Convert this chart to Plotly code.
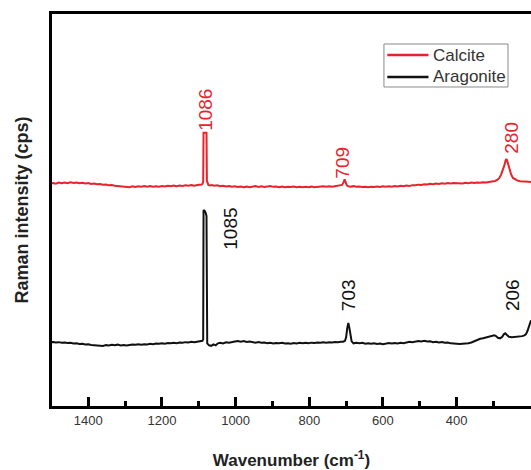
import plotly.graph_objects as go

# ---- Calcite (red) spectrum: wavenumber (cm-1), intensity (a.u.) ----
calcite_wn = [1502,1495,1488,1480,1472,1464,1456,1448,1440,1432,1424,1416,1408,1400,1392,1384,1376,1368,1360,1352,
              1344,1336,1328,1320,1312,1304,1296,1288,1280,1272,1264,1256,1248,1240,1232,1224,1216,1208,1200,1192,
              1184,1176,1168,1160,1152,1144,1136,1128,1120,1112,1104,1097,1092,1090,1088,1087,1079,1078,1076,1074,
              1070,1064,1058,1050,1042,1034,1026,1018,1010,1002,994,986,978,970,962,954,946,938,930,922,
              914,906,898,890,882,874,866,858,850,842,834,826,818,810,802,794,786,778,770,762,
              754,746,738,730,722,716,711,707,704,701,698,694,688,680,672,664,656,648,640,632,
              624,616,608,600,592,584,576,568,560,552,544,536,528,520,512,504,496,488,480,472,
              464,456,448,440,432,424,416,408,400,392,384,376,368,360,352,344,336,328,320,312,
              304,296,290,284,279,274,270,267,265,263,260,256,252,247,242,236,228,220,212,205,198]
calcite_int = [223.5,224.0,223.2,224.3,223.6,224.4,223.8,224.6,224.0,224.5,223.7,224.2,223.4,223.8,223.0,223.4,222.6,223.0,222.2,222.5,
               221.6,222.0,221.2,221.0,220.4,220.8,220.0,219.8,220.6,219.9,220.7,220.1,220.8,220.2,220.9,220.3,220.6,220.2,221.0,220.4,
               221.2,220.6,221.3,220.8,221.5,221.0,221.7,221.2,221.8,221.3,222.0,222.1,222.4,223.0,225.0,274.0,274.0,226.0,223.0,222.0,
               221.4,222.0,221.3,221.6,220.8,221.2,220.4,220.9,220.2,220.6,219.9,220.5,219.8,220.3,219.7,220.4,220.8,220.0,220.6,219.9,
               220.5,220.9,220.1,220.5,219.8,220.3,219.7,220.2,219.9,220.4,219.8,220.2,219.6,220.1,219.8,220.3,219.7,220.2,220.0,220.6,
               220.1,220.7,220.2,220.6,220.9,221.0,222.0,224.5,227.5,224.5,221.5,220.6,220.3,220.8,220.1,220.5,219.9,220.3,219.8,220.2,
               219.9,220.4,220.0,220.6,220.1,220.7,220.3,220.9,220.5,221.1,220.8,221.4,221.0,221.8,221.6,222.3,222.0,222.7,222.5,223.1,
               222.8,223.3,223.0,223.6,223.2,223.8,223.5,224.0,223.6,223.9,223.5,224.2,223.8,224.3,223.9,224.5,224.1,224.6,224.4,225.0,
               225.4,226.0,227.0,229.0,232.5,237.0,242.0,246.5,248.0,246.5,242.0,237.0,232.5,229.0,227.5,226.5,225.6,225.2,224.8,225.1,224.9]

# ---- Aragonite (black) spectrum ----
aragonite_wn = [1502,1495,1488,1480,1472,1464,1456,1448,1440,1432,1424,1416,1408,1400,1392,1384,1376,1368,1360,1352,
                1344,1336,1328,1320,1312,1304,1296,1288,1280,1272,1264,1256,1248,1240,1232,1224,1216,1208,1200,1192,
                1184,1176,1168,1160,1152,1144,1136,1128,1120,1112,1104,1097,1092,1090,1088,1087,1084,1081,1079,1077,
                1072,1066,1060,1054,1048,1042,1034,1026,1018,1010,1002,994,986,978,970,962,954,946,938,930,
                922,914,906,898,890,882,874,866,858,850,842,834,826,818,810,802,794,786,778,770,
                762,754,746,738,730,722,714,708,703,700,697,694,691,688,685,680,672,664,656,648,
                640,632,624,616,608,600,592,584,576,568,560,552,544,536,528,520,512,504,496,488,
                480,472,464,456,448,440,432,424,416,408,400,392,384,376,368,360,352,344,336,328,
                320,312,304,298,294,288,282,276,272,268,264,258,250,242,234,228,222,216,212,208,205,202,198]
aragonite_int = [65.0,65.4,64.8,65.2,64.6,64.9,64.3,64.5,63.8,64.1,63.4,63.6,62.9,63.1,62.4,62.0,61.5,61.7,61.3,62.2,
                 61.8,62.6,62.2,62.7,61.9,62.4,61.8,62.3,62.8,62.5,63.1,62.7,63.2,62.9,63.5,63.2,63.8,63.5,64.0,63.7,
                 64.3,64.0,64.5,64.2,64.9,64.6,65.2,64.9,65.5,65.2,65.8,66.0,66.2,66.5,68.0,197.0,196.0,194.0,191.0,64.0,
                 62.0,61.5,63.0,62.0,64.0,64.5,63.8,65.0,64.6,65.5,65.8,66.3,65.7,66.2,65.4,65.8,65.0,64.7,65.3,64.5,
                 64.9,64.2,64.6,63.9,64.4,64.0,64.5,63.8,64.2,63.7,64.3,63.9,64.5,64.0,64.6,64.1,64.7,64.3,64.9,64.5,
                 65.1,64.7,65.2,64.9,65.4,65.0,65.5,65.6,66.5,70.0,79.0,84.3,79.0,70.0,66.0,64.0,64.6,64.0,64.5,63.6,
                 64.1,63.5,64.0,63.3,63.8,63.2,63.7,64.3,63.8,64.4,63.9,64.6,64.2,65.0,65.6,65.2,66.0,66.4,65.9,66.6,
                 65.8,66.0,65.2,65.6,64.8,65.3,64.6,64.9,64.0,63.6,63.9,63.3,63.7,63.5,64.0,64.8,66.0,67.5,68.5,69.0,
                 69.8,70.0,70.8,72.0,71.5,69.5,69.0,70.5,73.0,74.0,72.5,70.5,70.0,70.3,70.0,70.5,71.2,72.0,73.0,76.0,79.5,83.0,87.0]

# ---- Peak labels ----
calcite_labels = ["1086", "709", "280"]
calcite_label_x = [1080, 709, 250]
calcite_label_y = [297, 244, 269]
aragonite_labels = ["1085", "703", "206"]
aragonite_label_x = [1016, 695, 250]
aragonite_label_y = [178, 112, 112]

series_names = ["Calcite", "Aragonite"]

major_ticks = [1400, 1200, 1000, 800, 600, 400]
minor_ticks = [1300, 1100, 900, 700, 500, 300]

RED = "#e8232b"
BLACK = "#111111"
FONT = "Liberation Sans, Arial, sans-serif"

fig = go.Figure()
fig.add_trace(go.Scatter(x=calcite_wn, y=calcite_int, mode="lines", name=series_names[0],
                         line=dict(color=RED, width=2), showlegend=False))
fig.add_trace(go.Scatter(x=aragonite_wn, y=aragonite_int, mode="lines", name=series_names[1],
                         line=dict(color=BLACK, width=2), showlegend=False))

annotations = []
for t, x, y in zip(calcite_labels, calcite_label_x, calcite_label_y):
    annotations.append(dict(x=x, y=y, xref="x", yref="y", text=t, showarrow=False, textangle=-90,
                            font=dict(color=RED, size=19, family=FONT)))
for t, x, y in zip(aragonite_labels, aragonite_label_x, aragonite_label_y):
    annotations.append(dict(x=x, y=y, xref="x", yref="y", text=t, showarrow=False, textangle=-90,
                            font=dict(color=BLACK, size=19, family=FONT)))

# legend box (drawn manually to match the compact original legend)
shapes = [
    dict(type="rect", xref="paper", yref="paper", x0=0.693, x1=0.952, y0=0.8138, y1=0.9235,
         line=dict(color="#8a8a8a", width=1), fillcolor="white", layer="above"),
    dict(type="line", xref="paper", yref="paper", x0=0.70, x1=0.786, y0=0.8954, y1=0.8954,
         line=dict(color=RED, width=2.5), layer="above"),
    dict(type="line", xref="paper", yref="paper", x0=0.70, x1=0.786, y0=0.8393, y1=0.8393,
         line=dict(color=BLACK, width=2.5), layer="above"),
]
for name, yy in zip(series_names, [0.8954, 0.8393]):
    annotations.append(dict(x=0.791, y=yy, xref="paper", yref="paper", text=name, showarrow=False,
                            xanchor="left", yanchor="middle", font=dict(size=17, color="#333", family=FONT)))

fig.update_layout(
    width=531, height=470,
    margin=dict(l=52, r=0, t=14, b=64),
    paper_bgcolor="white", plot_bgcolor="white",
    font=dict(family=FONT, color="#222"),
    showlegend=False,
    annotations=annotations,
    shapes=shapes,
    xaxis=dict(
        range=[1498.4, 198.1], showgrid=False, zeroline=False,
        showline=True, linecolor="black", linewidth=3, mirror=True,
        tickmode="array", tickvals=major_ticks,
        ticks="inside", ticklen=9, tickwidth=2.5, tickcolor="black",
        tickfont=dict(size=13, color="#333"),
        minor=dict(tickmode="array", tickvals=minor_ticks, ticks="inside", ticklen=5, tickwidth=2.5, tickcolor="black"),
        title=dict(text="<b>Wavenumber (cm<sup>-1</sup>)</b>", font=dict(size=17, color="#222"), standoff=28),
    ),
    yaxis=dict(
        range=[1.5, 392.5], showgrid=False, zeroline=False,
        showline=True, linecolor="black", linewidth=3, mirror=False,
        showticklabels=False, ticks="",
        title=dict(text="<b>Raman intensity (cps)</b>", font=dict(size=18, color="#222"), standoff=16),
    ),
)

fig.write_html("out.html")
